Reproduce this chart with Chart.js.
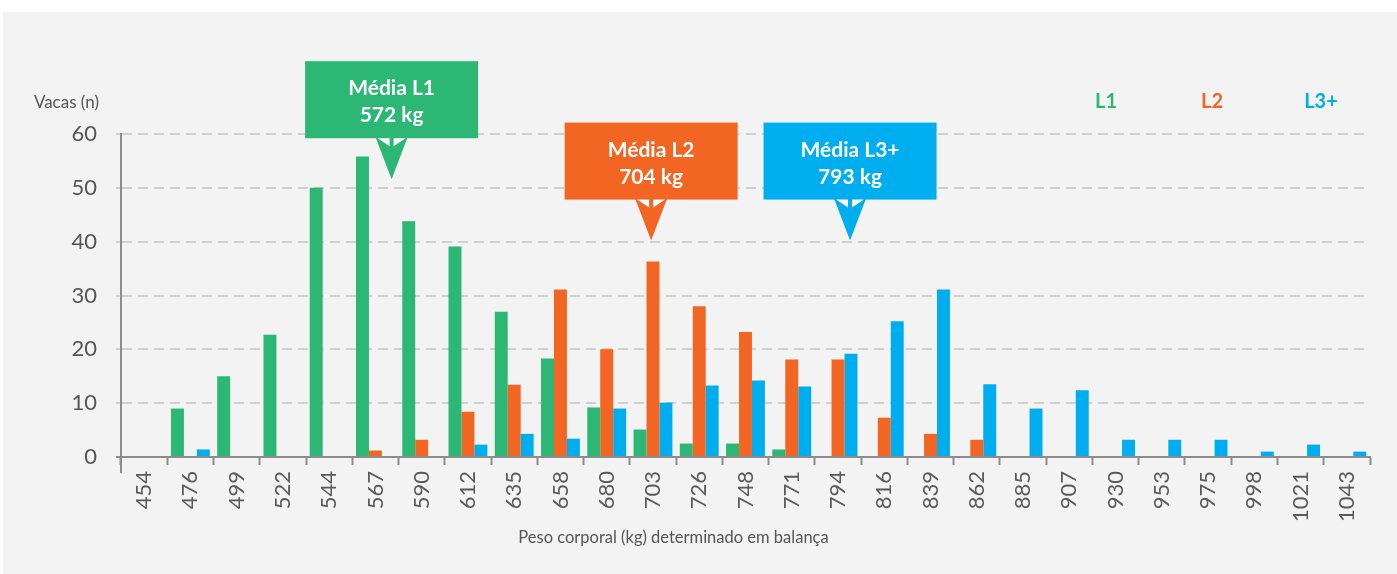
<!DOCTYPE html>
<html>
<head>
<meta charset="utf-8">
<script src="https://cdn.jsdelivr.net/npm/chart.js@4.4.1/dist/chart.umd.min.js"></script>
<style>
  html, body { margin: 0; padding: 0; background: #fff; }
  #panel { position: absolute; left: 3px; top: 12px; width: 1394px; height: 562px; background: #f2f3f2; }
  #weightChart { position: absolute; left: 0; top: 0; }
</style>
</head>
<body>
<div id="panel"></div>
<canvas id="weightChart" width="1397" height="574"></canvas>
<script>
// Peso corporal (kg) - categories
const weights = ["454", "476", "499", "522", "544", "567", "590", "612", "635", "658", "680", "703", "726", "748",
  "771", "794", "816", "839", "862", "885", "907", "930", "953", "975", "998", "1021", "1043"];

// Vacas (n) per lactation group
const l1 = [0, 9, 15, 22.7, 50, 55.8, 43.8, 39.1, 27, 18.3, 9.2, 5.1, 2.5, 2.5,
  1.4, 0, 0, 0, 0, 0, 0, 0, 0, 0, 0, 0, 0];
const l2 = [0, 0, 0, 0, 0, 1.2, 3.2, 8.4, 13.4, 31.1, 20, 36.3, 28, 23.2,
  18.1, 18.1, 7.3, 4.3, 3.2, 0, 0, 0, 0, 0, 0, 0, 0];
const l3 = [0, 1.4, 0, 0, 0, 0, 0, 2.3, 4.3, 3.4, 9, 10.1, 13.3, 14.2,
  13.1, 19.2, 25.2, 31.1, 13.5, 9, 12.4, 3.2, 3.2, 3.2, 1, 2.3, 1];

const seriesNames = ["L1", "L2", "L3+"];
const seriesColors = ["#2db775", "#f26522", "#00aeef"];

const yTicks = [0, 10, 20, 30, 40, 50, 60];
const yTitle = "Vacas (n)";
const xTitle = "Peso corporal (kg) determinado em balança";

// Average callouts: arrow tip at (category index, value)
const calloutLabels = ["Média L1", "Média L2", "Média L3+"];
const calloutValues = ["572 kg", "704 kg", "793 kg"];
const calloutAt = [5.35, 10.96, 15.26];
const calloutTip = [51.6, 40.2, 40.2];

Chart.defaults.font.family = "Lato, 'DejaVu Sans', sans-serif";

const overlay = {
  id: "overlay",
  afterDatasetsDraw(chart) {
    const { ctx, chartArea: a, scales: { x, y } } = chart;
    ctx.save();

    // y axis runs a bit past the baseline
    ctx.strokeStyle = "#8c8c8c";
    ctx.lineWidth = 2;
    ctx.beginPath();
    ctx.moveTo(a.left, a.bottom);
    ctx.lineTo(a.left, a.bottom + 16);
    ctx.stroke();

    // axis titles
    ctx.fillStyle = "#555";
    ctx.textBaseline = "middle";
    ctx.font = "17px Lato";
    ctx.textAlign = "right";
    ctx.fillText(yTitle, a.left - 22, a.top - 31);
    ctx.font = "16.5px Lato";
    ctx.textAlign = "center";
    ctx.fillText(xTitle, (a.left + a.right) / 2 - 72, a.bottom + 81);

    // legend
    ctx.font = "bold 20px Lato";
    const legendX = [a.right - 264, a.right - 158, a.right - 49];
    seriesNames.forEach((n, i) => {
      ctx.fillStyle = seriesColors[i];
      ctx.fillText(n, legendX[i], a.top - 32);
    });

    // callouts
    const bw = 173, bh = 77, ah = 41;
    calloutAt.forEach((idx, i) => {
      const px = x.getPixelForValue(idx);
      const py = y.getPixelForValue(calloutTip[i]);
      const by = py - ah;
      const top = by - bh;
      ctx.fillStyle = seriesColors[i];
      ctx.fillRect(px - bw / 2, top, bw, bh);
      ctx.beginPath();
      ctx.moveTo(px - 16, by - 1);
      ctx.lineTo(px + 16, by - 1);
      ctx.lineTo(px, py);
      ctx.closePath();
      ctx.fill();
      // white notches giving the arrow shape
      ctx.fillStyle = "#fff";
      ctx.beginPath();
      ctx.moveTo(px - 14, by);
      ctx.lineTo(px - 2, by);
      ctx.lineTo(px - 2, by + 8);
      ctx.closePath();
      ctx.moveTo(px + 14, by);
      ctx.lineTo(px + 2, by);
      ctx.lineTo(px + 2, by + 8);
      ctx.closePath();
      ctx.fill();

      ctx.font = "bold 21px Lato";
      ctx.textAlign = "center";
      ctx.textBaseline = "alphabetic";
      ctx.fillText(calloutLabels[i], px, top + 34);
      ctx.fillText(calloutValues[i], px, top + 61);
    });

    ctx.restore();
  }
};

new Chart(document.getElementById("weightChart"), {
  type: "bar",
  data: {
    labels: weights,
    datasets: [l1, l2, l3].map((d, i) => ({
      label: seriesNames[i],
      data: d,
      backgroundColor: seriesColors[i],
      borderWidth: 0,
      categoryPercentage: 0.84,
      barPercentage: 1.0
    }))
  },
  options: {
    responsive: false,
    animation: false,
    devicePixelRatio: 1,
    layout: { padding: { top: 134, right: 27, left: 0, bottom: 0 } },
    plugins: {
      legend: { display: false },
      tooltip: { enabled: false }
    },
    scales: {
      x: {
        afterFit: s => { s.height = 117; },
        grid: {
          display: true,
          drawOnChartArea: false,
          drawTicks: true,
          tickLength: 8,
          tickColor: "#8c8c8c",
          tickWidth: 2,
          offset: true
        },
        border: { display: true, color: "#8c8c8c", width: 2 },
        ticks: {
          autoSkip: false,
          minRotation: 90,
          maxRotation: 90,
          padding: 6,
          color: "#5a5a5a",
          font: { size: 22 }
        }
      },
      y: {
        min: 0,
        max: 60,
        afterFit: s => { s.width = 121; },
        afterBuildTicks: s => { s.ticks = yTicks.map(v => ({ value: v })); },
        grid: {
          color: ctx => ctx.tick && ctx.tick.value === 0 ? "rgba(0,0,0,0)" : "#cfcfcf",
          lineWidth: 2,
          drawTicks: true,
          tickLength: 5,
          tickColor: ctx => ctx.tick && ctx.tick.value === 0 ? "#8c8c8c" : "#cfcfcf"
        },
        border: { display: true, color: "#8c8c8c", width: 2, dash: [10, 6] },
        ticks: {
          padding: 19,
          color: "#555",
          font: { size: 22 }
        }
      }
    }
  },
  plugins: [overlay]
});
</script>
</body>
</html>
